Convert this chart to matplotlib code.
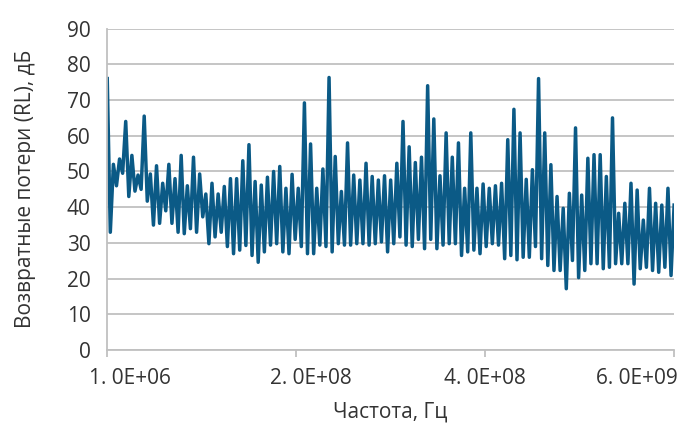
import numpy as np
import matplotlib
matplotlib.use("Agg")
import matplotlib.pyplot as plt
from matplotlib.transforms import ScaledTranslation

# return loss, dB: alternating peaks / troughs, left to right
rl_part1 = [76, 33, 52, 46, 53.5, 49.5, 64, 43, 54.5, 44.5, 49, 45, 65.5, 41.7,
            49.3, 35, 51.6, 35.5, 46.7, 39, 52, 35.5, 48, 33, 54.5, 32.6, 46, 34,
            54, 33, 49.3, 37.3, 43.7, 29.8, 46.7, 31.7, 43.7, 33, 45.8, 29, 48, 27,
            48, 28, 53, 29.3, 57.5, 26.5]
rl_part2 = [47.2, 24.6, 46.2, 27.5, 48.4, 29.4, 50, 29.8, 51.4, 27.5, 45.3, 27,
            49.2, 31, 45.3, 29, 69.2, 27, 57.7, 27, 45.3, 29.4, 50.7, 29, 76.3, 27.5,
            54.2, 29.8, 44.4, 29.4, 58, 29.4, 49, 29.8, 47.6, 29.8, 52.3, 29.4, 48.6,
            29.8, 47.6, 30.3, 48.8, 27.5, 47.6, 29.8]
rl_part3 = [52.3, 31.7, 64, 29.4, 56.9, 29, 52.5, 31, 54, 28.4, 74, 31, 64.7, 28.4,
            48.8, 29.4, 60.8, 29.8, 54, 29.8, 58, 26.5, 45.3, 27.5, 60.8, 28, 45.3,
            27, 46.5, 29, 45.3, 29.8, 46, 29.4, 46.7, 25.6, 58.9, 26.5, 67.4, 25.3,
            60.8, 26, 47.8, 26, 50.5, 29, 76]
rl_part4 = [25.6, 60.8, 23.7, 51.9, 22.3, 43, 22.3, 39.7, 17.2, 43.9, 25.1, 62.2,
            20.3, 43.4, 22.3, 53.7, 24.2, 54.7, 24.2, 54.7, 22.8, 48.6, 23.2, 65,
            24.2, 38.3, 24.2, 41.1, 24.2, 46.7, 18.5, 44.8, 22.8, 36.4, 23.2, 45.3,
            22.3, 41.1, 21.8, 40.6, 23.2, 45.3, 20.9, 40.6]

tick_labels = ["1. 0E+06", "2. 0E+08", "4. 0E+08", "6. 0E+09"]

rl = np.array(rl_part1 + rl_part2 + rl_part3 + rl_part4)
x = np.arange(len(rl))

plt.rcParams['font.family'] = ['Open Sans', 'DejaVu Sans']
fs = 15

fig = plt.figure(figsize=(6.83, 4.26), dpi=100)
ax = fig.add_axes([0.157, 0.178, 0.83, 0.755])

ax.plot(x, rl, color='#0b5a86', lw=2.5, solid_joinstyle='round')

ax.set_ylim(0, 90)
ax.set_yticks(np.arange(0, 91, 10))
ax.set_xlim(0, len(rl) - 1)
ax.set_xticks(np.linspace(0, len(rl) - 1, 4))
ax.set_xticklabels(tick_labels)

ax.grid(axis='y', color='#c0c0c0', lw=1.3)
ax.set_axisbelow(True)
for s in ['top', 'right']:
    ax.spines[s].set_visible(False)
for s in ['left', 'bottom']:
    ax.spines[s].set_color('#c0c0c0')
    ax.spines[s].set_linewidth(1.3)

ax.tick_params(axis='y', length=0, labelsize=fs, colors='#333333', pad=12)
ax.tick_params(axis='x', length=5, width=1.3, color='#c0c0c0', labelsize=fs,
               labelcolor='#333333', pad=8)

# excel-style label placement, shift in pixels
shifts = [23, 15, 0, -37]
for lab, dx in zip(ax.get_xticklabels(), shifts):
    lab.set_transform(lab.get_transform() + ScaledTranslation(dx / 100, 0, fig.dpi_scale_trans))

ax.set_xlabel("Частота, Гц", fontsize=fs, color='#333333', labelpad=9)
ax.set_ylabel("Возвратные потери (RL), дБ", fontsize=fs, color='#333333', labelpad=22)

fig.savefig("out.png", dpi=100)
